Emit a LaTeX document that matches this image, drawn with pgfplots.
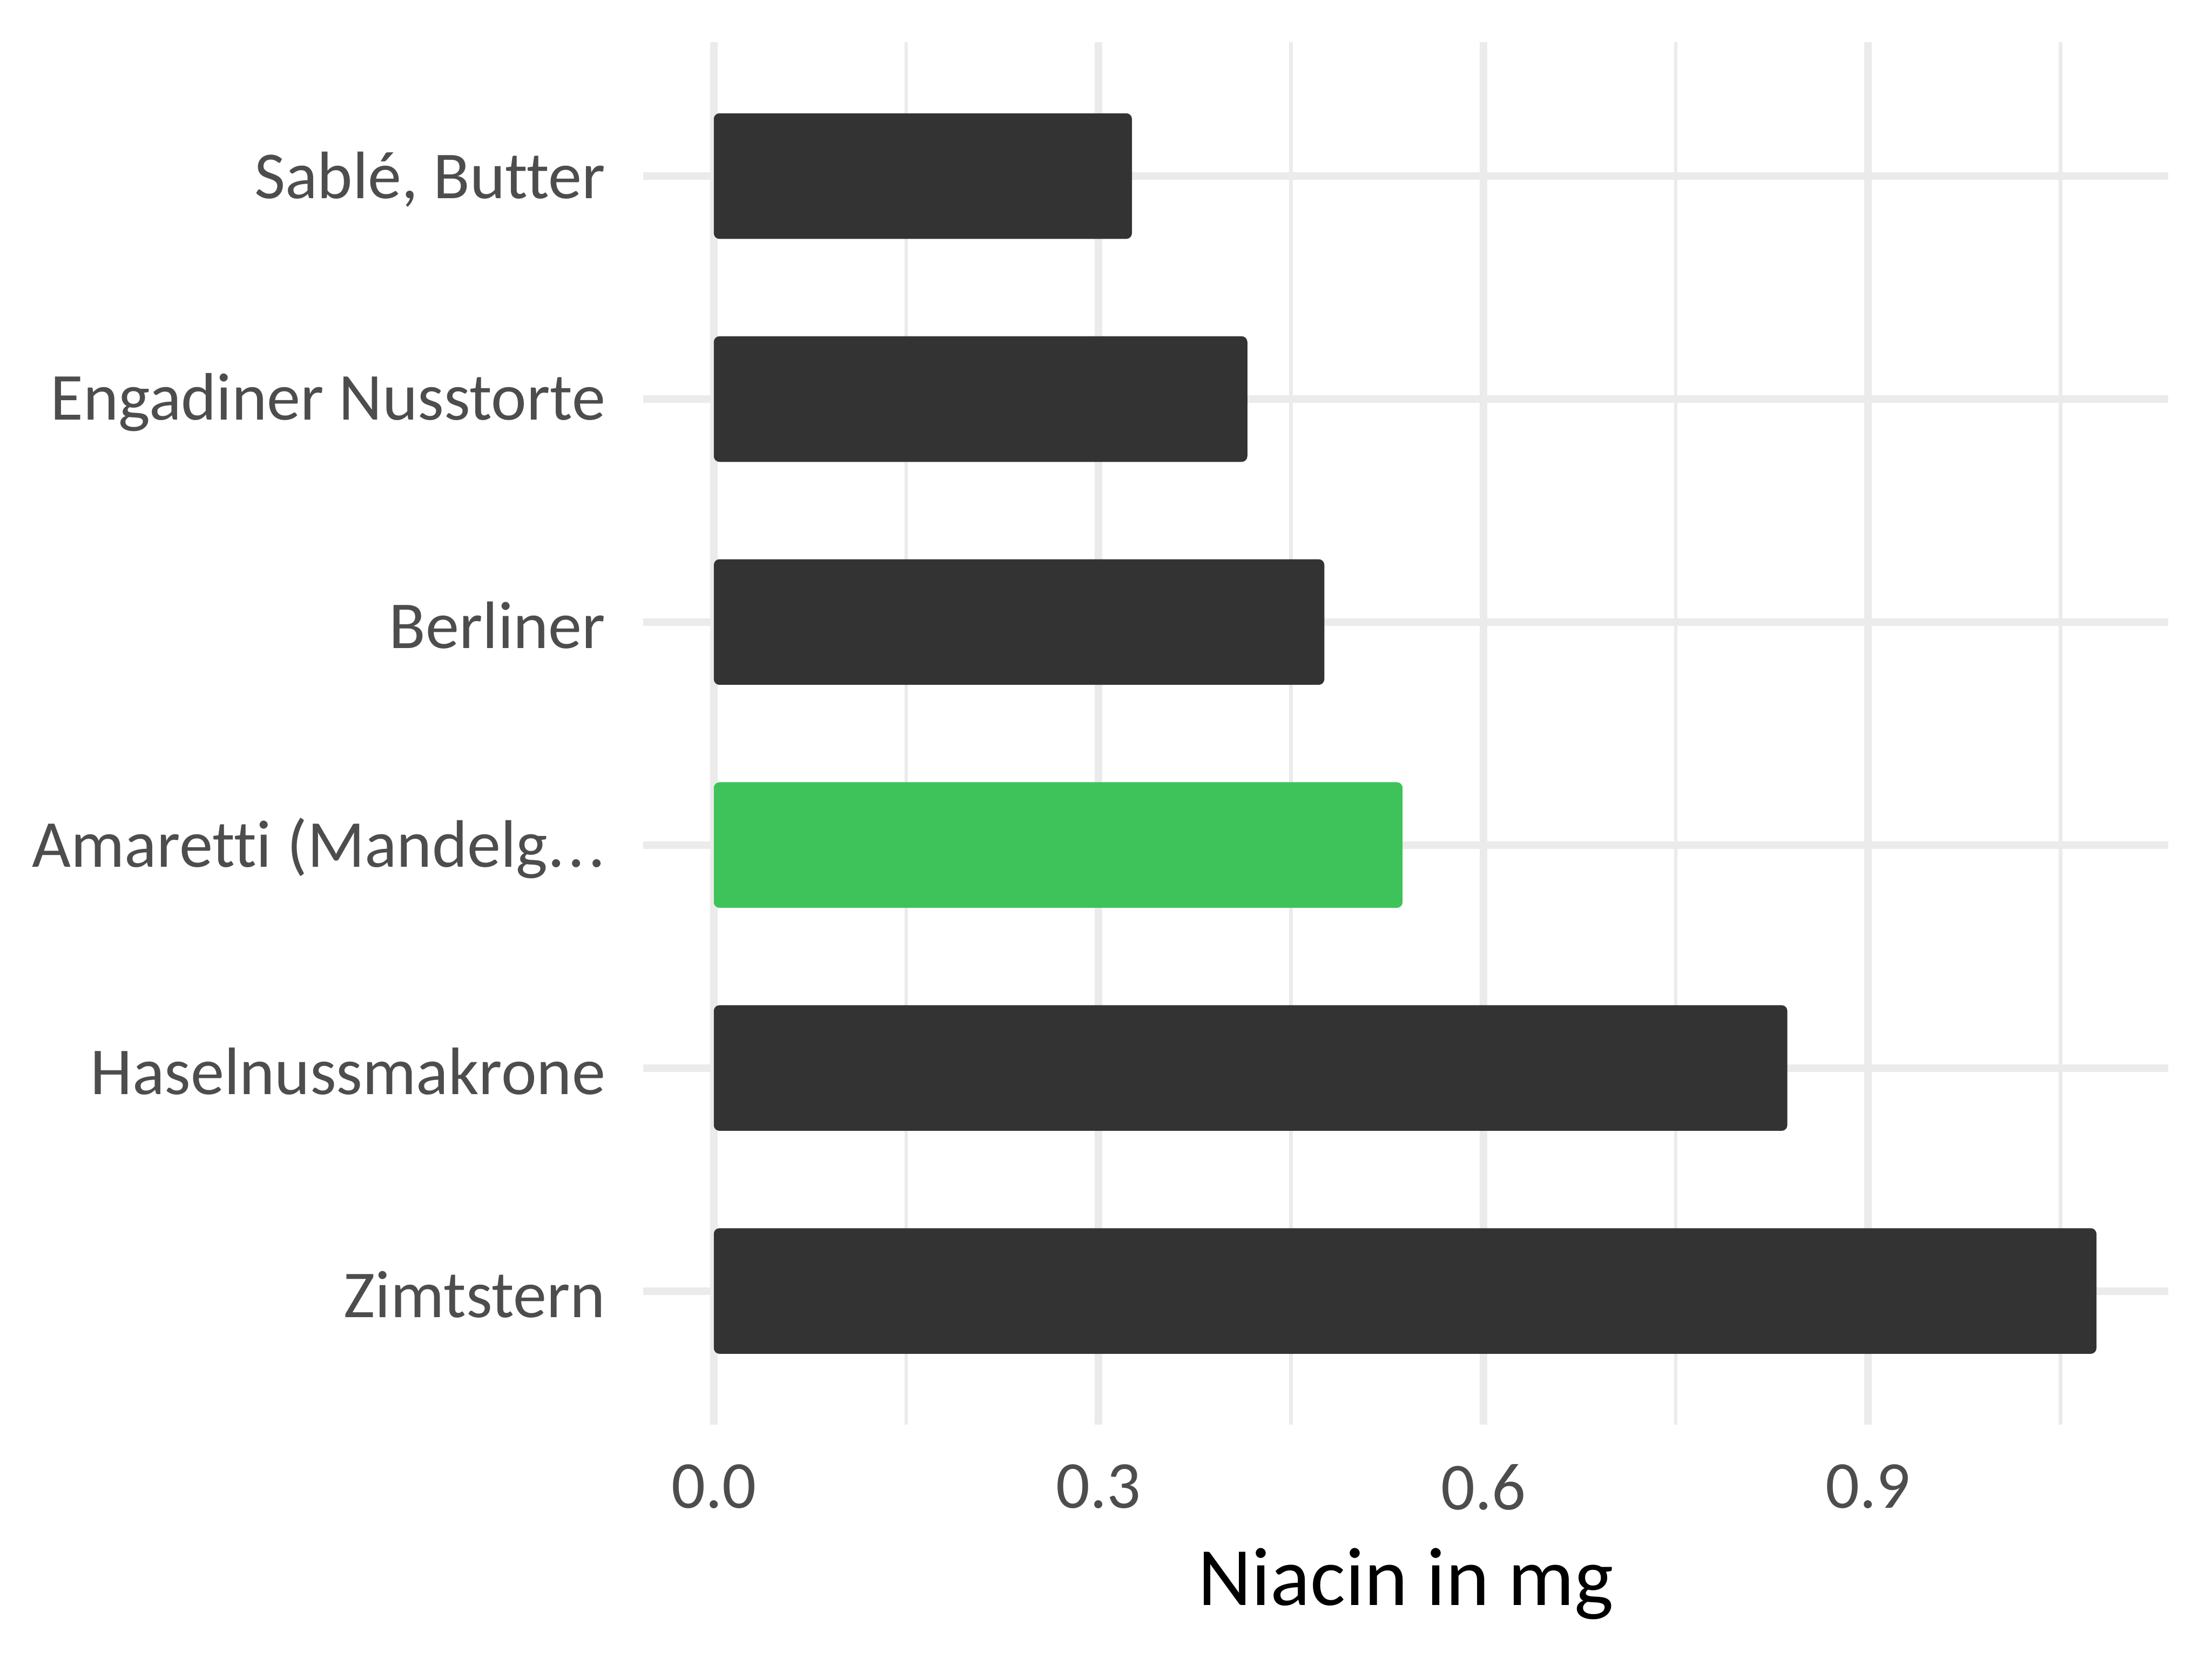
\documentclass[border=0pt]{standalone}
\usepackage{pgfplots}
\pgfplotsset{compat=1.18}
\usepackage{fontspec}
\setmainfont[Ligatures=NoCommon]{Carlito}
\definecolor{bardark}{HTML}{333333}
\definecolor{bargreen}{HTML}{3EC35A}
\definecolor{gridc}{HTML}{EBEBEB}
\definecolor{textc}{HTML}{4D4D4D}
\newcommand{\threedots}{.\kern0.6pt.\kern0.6pt.}
\begin{document}
\begin{tikzpicture}
\path[use as bounding box] (0,0) rectangle (392pt,294pt);
\begin{axis}[
  at={(114pt,41.5pt)}, anchor=south west,
  scale only axis, width=270.25pt, height=245pt,
  xmin=-0.055, xmax=1.134, ymin=0.4, ymax=6.6,
  axis line style={draw=none},
  major tick length=0pt, minor tick length=0pt,
  tick style={draw=none},
  xtick={0,0.3,0.6,0.9},
  xticklabels={0.0,0.3,0.6,0.9},
  minor xtick={0.15,0.45,0.75,1.05},
  ytick={1,2,3,4,5,6},
  yticklabels={Zimtstern,Haselnussmakrone,{Amaretti (Mandelg\threedots},Berliner,Engadiner Nusstorte,{Sablé, Butter}},
  xmajorgrids, xminorgrids, ymajorgrids,
  major grid style={draw=gridc, line width=1.35pt},
  minor grid style={draw=gridc, line width=0.65pt},
  ticklabel style={font=\fontsize{11.9}{14}\selectfont, text=textc, inner sep=0pt},
  yticklabel style={anchor=east, xshift=-6.5pt, yshift=-0.6pt},
  xticklabel style={anchor=north, yshift=-6.8pt},
  /pgf/number format/assume math mode=true,
  xlabel={Niacin in mg},
  xlabel style={font=\fontsize{14.7}{18}\selectfont, text=black, inner sep=0pt, anchor=north, yshift=-6.5pt},
]
\addplot[xbar, bar width=0.5633, fill=bardark, draw=none, rounded corners=1pt]
  coordinates {(1.078,1) (0.837,2) (0.476,4) (0.416,5) (0.326,6)};
\addplot[xbar, bar width=0.5633, fill=bargreen, draw=none, rounded corners=1pt]
  coordinates {(0.537,3)};
\end{axis}
\end{tikzpicture}
\end{document}
